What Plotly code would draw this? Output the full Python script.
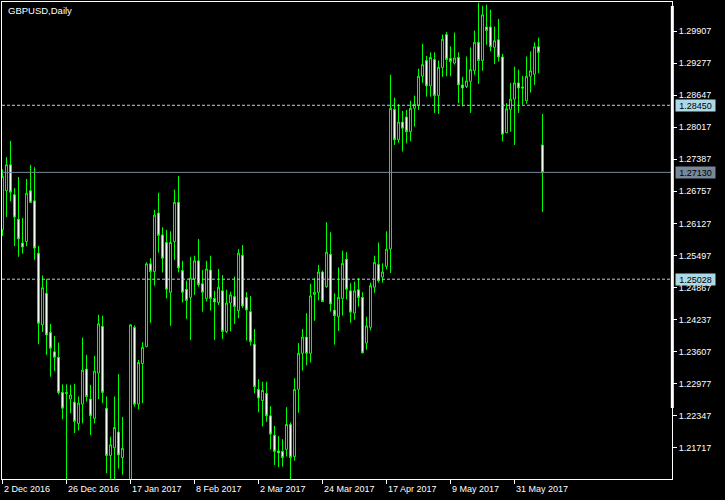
import plotly.graph_objects as go

# ---------------- data ----------------
DATES = [
    "2016-12-02",
    "2016-12-05", "2016-12-06", "2016-12-07", "2016-12-08", "2016-12-09",
    "2016-12-12", "2016-12-13", "2016-12-14", "2016-12-15", "2016-12-16",
    "2016-12-19", "2016-12-20", "2016-12-21", "2016-12-22", "2016-12-23",
    "2016-12-26", "2016-12-27", "2016-12-28", "2016-12-29", "2016-12-30",
    "2017-01-02", "2017-01-03", "2017-01-04", "2017-01-05", "2017-01-06",
    "2017-01-09", "2017-01-10", "2017-01-11", "2017-01-12", "2017-01-13",
    "2017-01-16", "2017-01-17", "2017-01-18", "2017-01-19", "2017-01-20",
    "2017-01-23", "2017-01-24", "2017-01-25", "2017-01-26", "2017-01-27",
    "2017-01-30", "2017-01-31", "2017-02-01", "2017-02-02", "2017-02-03",
    "2017-02-06", "2017-02-07", "2017-02-08", "2017-02-09", "2017-02-10",
    "2017-02-13", "2017-02-14", "2017-02-15", "2017-02-16", "2017-02-17",
    "2017-02-20", "2017-02-21", "2017-02-22", "2017-02-23", "2017-02-24",
    "2017-02-27", "2017-02-28", "2017-03-01", "2017-03-02", "2017-03-03",
    "2017-03-06", "2017-03-07", "2017-03-08", "2017-03-09", "2017-03-10",
    "2017-03-13", "2017-03-14", "2017-03-15", "2017-03-16", "2017-03-17",
    "2017-03-20", "2017-03-21", "2017-03-22", "2017-03-23", "2017-03-24",
    "2017-03-27", "2017-03-28", "2017-03-29", "2017-03-30", "2017-03-31",
    "2017-04-03", "2017-04-04", "2017-04-05", "2017-04-06", "2017-04-07",
    "2017-04-10", "2017-04-11", "2017-04-12", "2017-04-13", "2017-04-14",
    "2017-04-17", "2017-04-18", "2017-04-19", "2017-04-20", "2017-04-21",
    "2017-04-24", "2017-04-25", "2017-04-26", "2017-04-27", "2017-04-28",
    "2017-05-01", "2017-05-02", "2017-05-03", "2017-05-04", "2017-05-05",
    "2017-05-08", "2017-05-09", "2017-05-10", "2017-05-11", "2017-05-12",
    "2017-05-15", "2017-05-16", "2017-05-17", "2017-05-18", "2017-05-19",
    "2017-05-22", "2017-05-23", "2017-05-24", "2017-05-25", "2017-05-26",
    "2017-05-29", "2017-05-30", "2017-05-31", "2017-06-01", "2017-06-02",
    "2017-06-05", "2017-06-06", "2017-06-07", "2017-06-08", "2017-06-09",
]

OPEN = [
    1.2600, 1.2677, 1.2728, 1.2669, 1.2621, 1.2574, 1.2577, 1.2677, 1.2657, 1.2554,
    1.2413, 1.2475, 1.2398, 1.2360, 1.2349, 1.2280, 1.2280, 1.2267, 1.2261, 1.2219,
    1.2257, 1.2326, 1.2267, 1.2229, 1.2318, 1.2410, 1.2249, 1.2156, 1.2171, 1.2202,
    1.2152, 1.2070, 1.2056, 1.2408, 1.2257, 1.2337, 1.2370, 1.2533, 1.2518, 1.2633,
    1.2590, 1.2575, 1.2477, 1.2577, 1.2654, 1.2520, 1.2483, 1.2467, 1.2503, 1.2539,
    1.2494, 1.2465, 1.2521, 1.2465, 1.2457, 1.2480, 1.2400, 1.2456, 1.2469, 1.2441,
    1.2550, 1.2467, 1.2439, 1.2375, 1.2286, 1.2264, 1.2278, 1.2234, 1.2196, 1.2165,
    1.2164, 1.2168, 1.2217, 1.2154, 1.2286, 1.2357, 1.2389, 1.2357, 1.2473, 1.2477,
    1.2517, 1.2488, 1.2552, 1.2442, 1.2429, 1.2465, 1.2542, 1.2480, 1.2436, 1.2482,
    1.2467, 1.2377, 1.2408, 1.2487, 1.2532, 1.2507, 1.2528, 1.2562, 1.2837, 1.2777,
    1.2812, 1.2822, 1.2793, 1.2839, 1.2845, 1.2902, 1.2933, 1.2883, 1.2935, 1.2864,
    1.2919, 1.2984, 1.2937, 1.2928, 1.2939, 1.2885, 1.2882, 1.2892, 1.2913, 1.2969,
    1.2933, 1.2999, 1.2999, 1.2959, 1.2974, 1.2940, 1.2791, 1.2837, 1.2857, 1.2889,
    1.2881, 1.2854, 1.2902, 1.2906, 1.2960, 1.2767,
]
HIGH = [
    1.2719, 1.2743, 1.2775, 1.2682, 1.2704, 1.2623, 1.2700, 1.2728, 1.2723, 1.2568,
    1.2510, 1.2503, 1.2415, 1.2391, 1.2378, 1.2296, 1.2296, 1.2295, 1.2297, 1.2272,
    1.2388, 1.2354, 1.2295, 1.2352, 1.2433, 1.2431, 1.2272, 1.2193, 1.2272, 1.2316,
    1.2232, 1.2090, 1.2414, 1.2412, 1.2344, 1.2379, 1.2536, 1.2544, 1.2639, 1.2673,
    1.2605, 1.2600, 1.2597, 1.2679, 1.2706, 1.2539, 1.2500, 1.2547, 1.2549, 1.2582,
    1.2521, 1.2539, 1.2549, 1.2480, 1.2523, 1.2511, 1.2482, 1.2478, 1.2508, 1.2562,
    1.2570, 1.2477, 1.2470, 1.2405, 1.2306, 1.2301, 1.2301, 1.2253, 1.2214, 1.2194,
    1.2188, 1.2251, 1.2221, 1.2308, 1.2377, 1.2405, 1.2436, 1.2494, 1.2505, 1.2531,
    1.2520, 1.2615, 1.2595, 1.2475, 1.2526, 1.2559, 1.2556, 1.2495, 1.2498, 1.2505,
    1.2477, 1.2429, 1.2496, 1.2549, 1.2575, 1.2534, 1.2597, 1.2905, 1.2860, 1.2847,
    1.2834, 1.2836, 1.2854, 1.2864, 1.2917, 1.2966, 1.2942, 1.2949, 1.2949, 1.2933,
    1.2984, 1.2989, 1.2961, 1.2988, 1.2949, 1.2901, 1.2941, 1.2959, 1.2992, 1.3047,
    1.3041, 1.3043, 1.3033, 1.3000, 1.3015, 1.2946, 1.2849, 1.2889, 1.2921, 1.2915,
    1.2903, 1.2941, 1.2951, 1.2969, 1.2978, 1.2828,
]
LOW = [
    1.2588, 1.2625, 1.2656, 1.2568, 1.2547, 1.2553, 1.2568, 1.2653, 1.2541, 1.2375,
    1.2399, 1.2354, 1.2311, 1.2322, 1.2276, 1.2227, 1.2100, 1.2239, 1.2200, 1.2205,
    1.2219, 1.2262, 1.2196, 1.2219, 1.2267, 1.2259, 1.2121, 1.2100, 1.2035, 1.2130,
    1.2118, 1.1986, 1.2040, 1.2252, 1.2247, 1.2259, 1.2369, 1.2417, 1.2490, 1.2555,
    1.2516, 1.2465, 1.2411, 1.2541, 1.2516, 1.2457, 1.2425, 1.2383, 1.2472, 1.2488,
    1.2439, 1.2459, 1.2441, 1.2383, 1.2452, 1.2385, 1.2397, 1.2400, 1.2415, 1.2426,
    1.2446, 1.2382, 1.2372, 1.2278, 1.2241, 1.2213, 1.2222, 1.2168, 1.2137, 1.2133,
    1.2134, 1.2154, 1.2105, 1.2146, 1.2240, 1.2323, 1.2333, 1.2339, 1.2421, 1.2461,
    1.2459, 1.2486, 1.2439, 1.2374, 1.2401, 1.2431, 1.2463, 1.2417, 1.2423, 1.2449,
    1.2357, 1.2364, 1.2402, 1.2476, 1.2496, 1.2496, 1.2522, 1.2515, 1.2767, 1.2771,
    1.2754, 1.2770, 1.2774, 1.2803, 1.2836, 1.2889, 1.2862, 1.2862, 1.2830, 1.2828,
    1.2901, 1.2902, 1.2902, 1.2925, 1.2849, 1.2843, 1.2879, 1.2830, 1.2905, 1.2887,
    1.2913, 1.2964, 1.2951, 1.2926, 1.2931, 1.2774, 1.2790, 1.2793, 1.2767, 1.2830,
    1.2846, 1.2848, 1.2870, 1.2885, 1.2908, 1.2635,
]
CLOSE = [
    1.2705, 1.2728, 1.2674, 1.2625, 1.2582, 1.2566, 1.2672, 1.2654, 1.2564, 1.2416,
    1.2486, 1.2393, 1.2367, 1.2349, 1.2280, 1.2249, 1.2278, 1.2275, 1.2223, 1.2259,
    1.2324, 1.2272, 1.2234, 1.2322, 1.2415, 1.2280, 1.2156, 1.2177, 1.2211, 1.2157,
    1.2170, 1.2056, 1.2413, 1.2257, 1.2339, 1.2369, 1.2533, 1.2518, 1.2629, 1.2589,
    1.2544, 1.2483, 1.2575, 1.2654, 1.2525, 1.2477, 1.2461, 1.2505, 1.2539, 1.2492,
    1.2477, 1.2523, 1.2465, 1.2458, 1.2487, 1.2400, 1.2456, 1.2472, 1.2449, 1.2554,
    1.2450, 1.2442, 1.2380, 1.2291, 1.2269, 1.2284, 1.2234, 1.2198, 1.2164, 1.2161,
    1.2152, 1.2217, 1.2152, 1.2286, 1.2357, 1.2389, 1.2357, 1.2470, 1.2477, 1.2517,
    1.2459, 1.2556, 1.2454, 1.2431, 1.2467, 1.2534, 1.2483, 1.2438, 1.2480, 1.2467,
    1.2358, 1.2411, 1.2490, 1.2536, 1.2500, 1.2517, 1.2562, 1.2839, 1.2777, 1.2812,
    1.2800, 1.2793, 1.2839, 1.2847, 1.2902, 1.2925, 1.2883, 1.2939, 1.2864, 1.2920,
    1.2975, 1.2935, 1.2931, 1.2938, 1.2885, 1.2879, 1.2893, 1.2915, 1.2969, 1.2933,
    1.3023, 1.2992, 1.2960, 1.2972, 1.2940, 1.2788, 1.2838, 1.2857, 1.2889, 1.2879,
    1.2879, 1.2902, 1.2913, 1.2960, 1.2949, 1.2713,
]

XTICK_DATES = ["2016-12-02", "2016-12-26", "2017-01-17", "2017-02-08", "2017-03-02",
               "2017-03-24", "2017-04-17", "2017-05-09", "2017-05-31"]
XTICK_LABELS = ["2 Dec 2016", "26 Dec 2016", "17 Jan 2017", "8 Feb 2017", "2 Mar 2017",
                "24 Mar 2017", "17 Apr 2017", "9 May 2017", "31 May 2017"]
YTICKS = [1.29907, 1.29277, 1.28647, 1.28017, 1.27387, 1.26757, 1.26127,
          1.25497, 1.24867, 1.24237, 1.23607, 1.22977, 1.22347, 1.21717]
DASHED_LEVELS = [1.28450, 1.25028]
BID = 1.27130
TITLE = "GBPUSD,Daily"

# ---------------- styling ----------------
W, H = 725, 500
ML, MR, MT, MB = 2, 53, 2, 21
FONT = "Liberation Sans"
LIME = "#00FF00"
DASH_COL = "#B4D2E0"
LABEL_BG = "#ADD8E6"
BID_COL = "#778899"

fig = go.Figure(go.Candlestick(
    x=DATES, open=OPEN, high=HIGH, low=LOW, close=CLOSE,
    increasing=dict(line=dict(color=LIME, width=1), fillcolor="#000000"),
    decreasing=dict(line=dict(color=LIME, width=1), fillcolor="#FFFFFF"),
    whiskerwidth=0, hoverinfo="skip", showlegend=False,
))

shapes = []
for lv in DASHED_LEVELS:
    shapes.append(dict(type="line", xref="paper", yref="y", x0=0, x1=1, y0=lv, y1=lv,
                       line=dict(color=DASH_COL, width=1, dash="3px,2px"), layer="above"))
shapes.append(dict(type="line", xref="paper", yref="y", x0=0, x1=1, y0=BID, y1=BID,
                   line=dict(color=BID_COL, width=1), layer="above"))
# thick part of the right frame
ph = H - MT - MB
shapes.append(dict(type="line", xref="paper", yref="paper", x0=1.0005, x1=1.0005,
                   y0=(H - MB - 408) / ph, y1=(H - MB - 6) / ph,
                   line=dict(color="white", width=3), layer="above"))

annotations = [dict(text=TITLE, xref="paper", yref="paper", x=0, y=1, xanchor="left",
                    yanchor="top", xshift=4, yshift=-1, showarrow=False,
                    font=dict(family=FONT, size=9.5, color="white"))]
for d, lab in zip(XTICK_DATES, XTICK_LABELS):
    annotations.append(dict(text=lab, xref="x", yref="paper", x=d, y=0, xanchor="left",
                            yanchor="top", xshift=-1, yshift=-3, showarrow=False,
                            font=dict(family=FONT, size=9, color="white")))
for lv, bg in [(DASHED_LEVELS[0], LABEL_BG), (BID, BID_COL), (DASHED_LEVELS[1], LABEL_BG)]:
    annotations.append(dict(text=f"{lv:.5f}", xref="paper", yref="y", x=1, y=lv,
                            xanchor="left", yanchor="middle", xshift=3, showarrow=False,
                            bgcolor=bg, borderpad=1, width=37, height=9,
                            font=dict(family=FONT, size=9, color="black")))

fig.update_layout(
    width=W, height=H, autosize=False,
    margin=dict(l=ML, r=MR, t=MT, b=MB, pad=0),
    paper_bgcolor="black", plot_bgcolor="black",
    shapes=shapes, annotations=annotations,
    xaxis=dict(type="category", range=[-0.125, 167.375], rangeslider=dict(visible=False),
               showgrid=False, zeroline=False, showline=True, linecolor="white", linewidth=1,
               mirror=True, ticks="outside", ticklen=4, tickcolor="white",
               tickvals=XTICK_DATES, showticklabels=False, fixedrange=True),
    yaxis=dict(side="right", range=[1.21097, 1.30482], showgrid=False, zeroline=False,
               showline=True, linecolor="white", linewidth=1, mirror=True,
               ticks="outside", ticklen=4, tickcolor="white",
               tickvals=YTICKS, ticktext=[f"{v:.5f}" for v in YTICKS],
               tickfont=dict(family=FONT, size=9, color="white"), fixedrange=True),
)

fig.write_html(
    "out.html",
    config={"displayModeBar": False, "staticPlot": True},
    post_script="document.body.style.margin='0';document.body.style.background='black';",
)
